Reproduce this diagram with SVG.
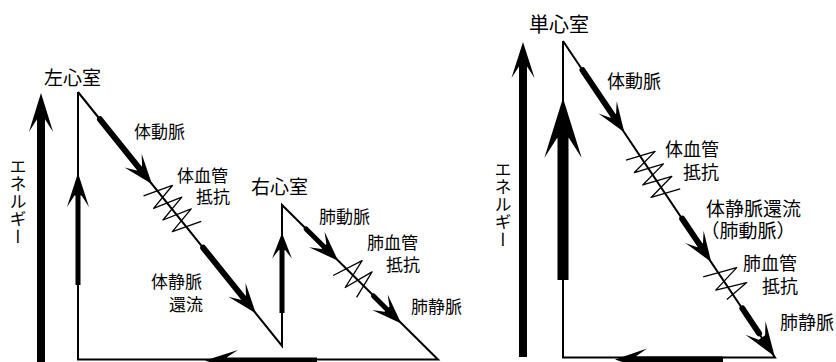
<svg xmlns="http://www.w3.org/2000/svg" xmlns:xlink="http://www.w3.org/1999/xlink" width="836" height="362" viewBox="0 0 836 362">
<style>
.thin{stroke:#000;stroke-width:2;fill:none;stroke-linejoin:miter}
.thick{stroke:#000;fill:none;stroke-linecap:round}
.spring{stroke:#000;stroke-width:1.3;fill:none;stroke-linejoin:round}
.lbl{font-family:"Noto Sans CJK JP","Noto Sans",sans-serif;font-size:17px;fill:#000}
.r{font-size:18px}
.big{font-family:"Noto Sans CJK JP","Noto Sans",sans-serif;font-size:19px;fill:#000}
.vert{font-family:"Noto Sans CJK JP","Noto Sans",sans-serif;font-size:17px;fill:#000;writing-mode:vertical-rl;letter-spacing:0.5px}
</style>
<defs>
<path id="ah" d="M0,0 L-30,-11 L-20,-3.5 L-20,3.5 L-30,11 Z" fill="#000"/>
</defs>
<rect width="836" height="362" fill="#fff"/>

<g id="left-energy-axis">
<line x1="41" y1="364" x2="41" y2="110" stroke="#000" stroke-width="8"/>
<use xlink:href="#ah" transform="translate(41,93) rotate(-90) scale(1.3,1.1)"/>
<text class="vert" x="18" y="158">エネルギー</text>
</g>

<g id="left-ventricle">
<text class="big" x="44" y="85">左心室</text>
</g>
<g id="right-ventricle">
<text class="big" x="251" y="194">右心室</text>
</g>

<g id="left-connectors">
<polyline class="thin" points="78,92 78,359.5 438,359.5 282,205 282,346 78,92"/>
<!-- left vertical arrow -->
<line x1="78" y1="285" x2="78" y2="193" stroke="#000" stroke-width="5"/>
<use xlink:href="#ah" transform="translate(78,173) rotate(-90) scale(1.13,1)"/>
<!-- systemic artery -->
<line class="thick" x1="100" y1="119.3" x2="140.6" y2="169.9" stroke-width="6"/>
<use xlink:href="#ah" transform="translate(151.9,183.9) rotate(51.2)"/>
<polyline class="spring" transform="translate(78,92) rotate(51.2)" points="122,14 132,-15 138,14 147,-15 153,14 162,-15 168,14 178,-15"/>
<!-- systemic venous return -->
<line class="thick" x1="203.2" y1="247.8" x2="244.5" y2="299.2" stroke-width="6"/>
<use xlink:href="#ah" transform="translate(255.8,313.2) rotate(51.2)"/>
<!-- right vertical arrow -->
<line x1="282" y1="313" x2="282" y2="249" stroke="#000" stroke-width="5"/>
<use xlink:href="#ah" transform="translate(282,233) rotate(-90) scale(0.85,0.9)"/>
<!-- pulmonary artery -->
<line class="thick" x1="306.1" y1="229" x2="326" y2="248.7" stroke-width="5"/>
<use xlink:href="#ah" transform="translate(338.1,260.7) rotate(44.8)"/>
<polyline class="spring" transform="translate(282,205) rotate(44.8)" points="86,14 96,-17 103,14 111,-16 118,13"/>
<!-- pulmonary vein -->
<line class="thick" x1="373.5" y1="295.9" x2="389.1" y2="311.4" stroke-width="5"/>
<use xlink:href="#ah" transform="translate(401.2,323.4) rotate(44.8)"/>
<!-- bottom return -->
<line x1="222" y1="360.5" x2="317" y2="360.5" stroke="#000" stroke-width="6"/>
<use xlink:href="#ah" transform="translate(205,360.5) rotate(180) scale(1.1,0.95)"/>
</g>

<g id="left-labels">
<text class="lbl" x="134" y="138">体動脈</text>
<text class="lbl" x="177" y="182">体血管<tspan x="196" y="203">抵抗</tspan></text>
<text class="lbl" x="151" y="288">体静脈<tspan x="169" y="311">還流</tspan></text>
<text class="lbl" x="319" y="223">肺動脈</text>
<text class="lbl" x="367" y="249">肺血管<tspan x="386" y="271">抵抗</tspan></text>
<text class="lbl" x="411" y="313">肺静脈</text>
</g>

<g id="right-energy-axis">
<line x1="523" y1="357" x2="523" y2="62" stroke="#000" stroke-width="8"/>
<use xlink:href="#ah" transform="translate(523,42) rotate(-90) scale(1.2,1.05)"/>
<text class="vert" x="503" y="161">エネルギー</text>
</g>

<g id="single-ventricle">
<text class="big" x="529" y="32" style="font-size:20px">単心室</text>
</g>

<g id="right-connectors">
<polyline class="thin" points="563,41 563,357.5 775,357.5 563,41"/>
<!-- main vertical arrow -->
<line x1="563" y1="280" x2="563" y2="130" stroke="#000" stroke-width="11"/>
<use xlink:href="#ah" transform="translate(563,98) rotate(-90) scale(2,1.7)"/>
<!-- systemic artery -->
<line class="thick" x1="582.5" y1="70.1" x2="614.3" y2="117.4" stroke-width="6"/>
<use xlink:href="#ah" transform="translate(624.3,132.3) rotate(56.14)"/>
<polyline class="spring" transform="translate(563,41) rotate(56.14)" points="134,14 143,-15 149,14 158,-15 164,14 173,-15 179,14 188,-15"/>
<!-- systemic venous return / pulmonary artery -->
<line class="thick" x1="682.2" y1="218.7" x2="701.2" y2="246.9" stroke-width="6"/>
<use xlink:href="#ah" transform="translate(711.2,261.9) rotate(56.14)"/>
<polyline class="spring" transform="translate(563,41) rotate(56.14)" points="274,15 285,-18 292,12 303,-18 306,8"/>
<!-- pulmonary vein -->
<line class="thick" x1="742.4" y1="308.4" x2="759.1" y2="333.3" stroke-width="6"/>
<use xlink:href="#ah" transform="translate(774.7,356.6) rotate(56.14) scale(1.15,1.1)"/>
<!-- bottom return -->
<line x1="632" y1="359.5" x2="723" y2="359.5" stroke="#000" stroke-width="6"/>
<use xlink:href="#ah" transform="translate(615,359.5) rotate(180) scale(1.07,1)"/>
</g>

<g id="right-labels">
<text class="lbl r" x="607" y="88">体動脈</text>
<text class="lbl r" x="665" y="156">体血管<tspan x="683" y="179">抵抗</tspan></text>
<text class="lbl" x="706" y="216" style="font-size:19px">体静脈還流<tspan x="748" y="238" text-anchor="middle">（肺動脈）</tspan></text>
<text class="lbl r" x="743" y="270">肺血管<tspan x="762" y="293">抵抗</tspan></text>
<text class="lbl r" x="780" y="329">肺静脈</text>
</g>
</svg>
